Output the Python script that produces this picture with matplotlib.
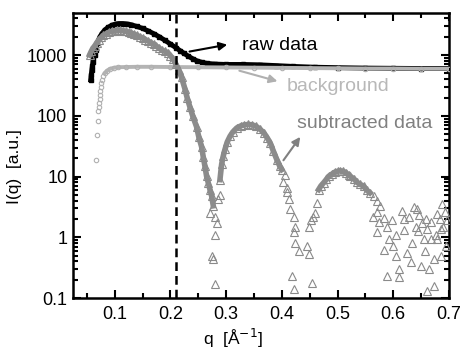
import matplotlib
matplotlib.use('Agg')
import matplotlib.pyplot as plt
from matplotlib.ticker import MultipleLocator, LogLocator, NullFormatter, FixedLocator

plt.rcParams['font.family'] = ['Liberation Sans', 'DejaVu Sans']

# raw data (black squares)
raw_q = [0.057, 0.058, 0.059, 0.060, 0.061, 0.062, 0.064, 0.066, 0.069, 0.073,
         0.077, 0.082, 0.088, 0.095, 0.102, 0.108, 0.115, 0.122, 0.130, 0.140,
         0.150, 0.160, 0.170, 0.180, 0.190, 0.200, 0.210, 0.218, 0.225, 0.232,
         0.240, 0.248, 0.256, 0.265, 0.280, 0.300, 0.330, 0.360, 0.390, 0.420,
         0.460, 0.500, 0.550, 0.600, 0.650, 0.700]
raw_I = [390, 470, 560, 650, 760, 880, 1000, 1200, 1600, 1950,
         2250, 2570, 2850, 3100, 3250, 3300, 3300, 3250, 3150, 2950,
         2750, 2500, 2250, 2000, 1750, 1520, 1320, 1170, 1060, 960,
         870, 800, 760, 730, 710, 700, 700, 690, 670, 650,
         630, 620, 610, 605, 600, 600]

# background (light grey circles)
bg_q = [0.067, 0.069, 0.070, 0.071, 0.0715, 0.0725, 0.073, 0.0735, 0.074, 0.075,
        0.076, 0.077, 0.079, 0.082, 0.086, 0.091, 0.098, 0.106, 0.120, 0.140,
        0.166, 0.200, 0.250, 0.300, 0.350, 0.400, 0.450, 0.500, 0.550, 0.600,
        0.650, 0.700]
bg_I = [19, 49, 83, 118, 140, 161, 190, 220, 260, 300,
        350, 390, 450, 500, 550, 590, 615, 630, 635, 640,
        640, 635, 630, 625, 620, 615, 610, 605, 600, 600,
        595, 595]

# subtracted data (grey triangles)
sub_q = [0.055, 0.058, 0.061, 0.064, 0.068, 0.072, 0.076, 0.080, 0.085, 0.090,
         0.095, 0.100, 0.105, 0.110, 0.115, 0.120, 0.125, 0.130, 0.135, 0.140,
         0.145, 0.150, 0.155, 0.160, 0.165, 0.170, 0.175, 0.180, 0.185, 0.190,
         0.195, 0.200, 0.205, 0.210, 0.215, 0.220, 0.226, 0.230, 0.235, 0.240,
         0.247, 0.251, 0.256, 0.259, 0.262, 0.265, 0.268, 0.271, 0.274, 0.277,
         0.271, 0.280, 0.283, 0.280, 0.274, 0.277, 0.280, 0.286, 0.289,
         0.289, 0.292, 0.295, 0.298, 0.302, 0.307, 0.312, 0.319, 0.326, 0.333,
         0.340, 0.347, 0.354, 0.361, 0.368, 0.374, 0.379, 0.385, 0.391, 0.396,
         0.400, 0.403, 0.406, 0.409, 0.410, 0.412, 0.415, 0.421, 0.424, 0.421,
         0.424, 0.430, 0.418, 0.421, 0.445, 0.448, 0.454,
         0.448, 0.452, 0.456, 0.460, 0.463, 0.466, 0.470, 0.475, 0.480, 0.484,
         0.490, 0.495, 0.500, 0.505, 0.510, 0.515, 0.520, 0.523, 0.530, 0.535,
         0.540, 0.547, 0.552, 0.558, 0.564, 0.565, 0.570, 0.571, 0.575, 0.577,
         0.583, 0.589, 0.592, 0.604, 0.610, 0.589, 0.610, 0.583, 0.600,
         0.616, 0.619, 0.625, 0.631, 0.634, 0.637, 0.640, 0.643, 0.645, 0.649,
         0.652, 0.655, 0.658, 0.661, 0.661, 0.664, 0.667, 0.673, 0.673, 0.679,
         0.679, 0.685, 0.688, 0.690, 0.694,
         0.570, 0.598, 0.605, 0.620, 0.628, 0.646, 0.668, 0.676, 0.683, 0.692,
         0.697, 0.657, 0.686]
sub_I = [1000, 1150, 1300, 1400, 1600, 1800, 1950, 2100, 2250, 2380,
         2450, 2500, 2550, 2540, 2500, 2450, 2380, 2300, 2200, 2100,
         2000, 1900, 1800, 1700, 1600, 1500, 1400, 1300, 1200, 1150,
         1100, 980, 850, 700, 560, 430, 280, 200, 140, 100,
         66, 45, 31, 21, 14.8, 10.1, 7.9, 6.1, 4.8, 3.3,
         2.5, 2.2, 1.7, 1.1, 0.49, 0.44, 0.17, 4.2, 5.0,
         8.9, 16, 22, 28, 37, 46, 54, 63, 68, 71,
         72, 71, 67, 60, 52, 43, 36, 26, 19, 15,
         13, 8.0, 10.7, 6.5, 5.5, 4.2, 2.9, 2.2, 1.5, 1.2,
         0.81, 0.60, 0.23, 0.14, 0.72, 0.53, 0.18,
         1.5, 1.9, 2.2, 2.5, 3.7, 6.1, 7.0, 7.9, 9.0, 10.1,
         11.0, 11.8, 12.2, 12.4, 12.2, 11.6, 10.5, 10.1, 9.0, 8.0,
         7.5, 6.9, 6.0, 5.4, 2.2, 4.8, 2.6, 4.0, 1.8, 3.3,
         2.1, 1.5, 0.93, 0.49, 0.30, 0.23, 0.22, 0.63, 0.72,
         2.7, 2.0, 0.56, 0.39, 0.81, 3.1, 1.5, 2.9, 1.26, 0.34,
         1.74, 0.93, 2.0, 1.35, 0.13, 0.30, 0.93, 0.44, 0.16, 2.4,
         0.93, 1.35, 3.5, 1.5, 0.72,
         1.2, 1.9, 1.1, 1.3, 2.2, 2.3, 1.8, 1.1, 2.0, 2.6,
         1.9, 0.6, 0.5]

q_cut = 0.211

# index ranges of the dense lobes in the subtracted series
lobes = [(0, 50), (59, 80), (101, 120)]

fig = plt.figure(figsize=(4.61, 3.54), dpi=100)
ax = fig.add_axes([0.158, 0.158, 0.816, 0.805])

ax.plot(raw_q, raw_I, color='black', lw=3.5, marker='s', ms=2.5, zorder=2)
ax.plot(bg_q[13:], bg_I[13:], color='#b4b4b4', lw=2.8, zorder=3)
ax.plot(bg_q, bg_I, ls='none', marker='o', ms=3.2, mfc='none', mec='#b0b0b0', mew=0.8, zorder=3)
for a, b in lobes:
    ax.plot(sub_q[a:b], sub_I[a:b], color='#8c8c8c', lw=4, zorder=4)
ax.plot(sub_q, sub_I, ls='none', marker='^', ms=5.5, mfc='none', mec='#8a8a8a', mew=0.8, zorder=4)
ax.axvline(q_cut, color='black', ls=(0, (3.5, 2)), lw=1.8, zorder=6)

ax.set_yscale('log')
ax.set_xlim(0.025, 0.70)
ax.set_ylim(0.1, 4900)

ax.xaxis.set_major_locator(FixedLocator([0.1, 0.2, 0.3, 0.4, 0.5, 0.6, 0.7]))
ax.xaxis.set_minor_locator(MultipleLocator(0.05))
ax.set_xticklabels(['0.1', '0.2', '0.3', '0.4', '0.5', '0.6', '0.7'])
ax.yaxis.set_major_locator(FixedLocator([0.1, 1, 10, 100, 1000]))
ax.set_yticklabels(['0.1', '1', '10', '100', '1000'])
ax.yaxis.set_minor_locator(LogLocator(base=10, subs=range(2, 10)))
ax.yaxis.set_minor_formatter(NullFormatter())

ax.tick_params(which='both', direction='in', top=True, right=True, width=1.5, labelsize=13)
ax.tick_params(which='major', length=6)
ax.tick_params(which='minor', length=3.5)
ax.tick_params(axis='x', pad=6)
ax.tick_params(axis='y', pad=4)
for s in ax.spines.values():
    s.set_linewidth(1.8)

ax.set_xlabel('q  [Å$^{-1}$]', fontsize=12.5)
ax.set_ylabel('I(q)  [a.u.]', fontsize=12.5)
ax.xaxis.set_label_coords(0.425, -0.1)
ax.yaxis.set_label_coords(-0.136, 0.463)

ax.annotate('', xy=(0.307, 1510), xytext=(0.2295, 1120),
            arrowprops=dict(arrowstyle='-|>', color='black', lw=1.5, mutation_scale=12))
ax.text(0.328, 1460, 'raw data', fontsize=14, color='black', va='center')
ax.annotate('', xy=(0.397, 360), xytext=(0.319, 568),
            arrowprops=dict(arrowstyle='-|>', color='#b0b0b0', lw=1.5, mutation_scale=12))
ax.text(0.409, 298, 'background', fontsize=14, color='#b8b8b8', va='center')
ax.annotate('', xy=(0.436, 49), xytext=(0.400, 17),
            arrowprops=dict(arrowstyle='-|>', color='#808080', lw=1.5, mutation_scale=12))
ax.text(0.427, 74, 'subtracted data', fontsize=14, color='#808080', va='center')

fig.savefig('out.png', dpi=100)
